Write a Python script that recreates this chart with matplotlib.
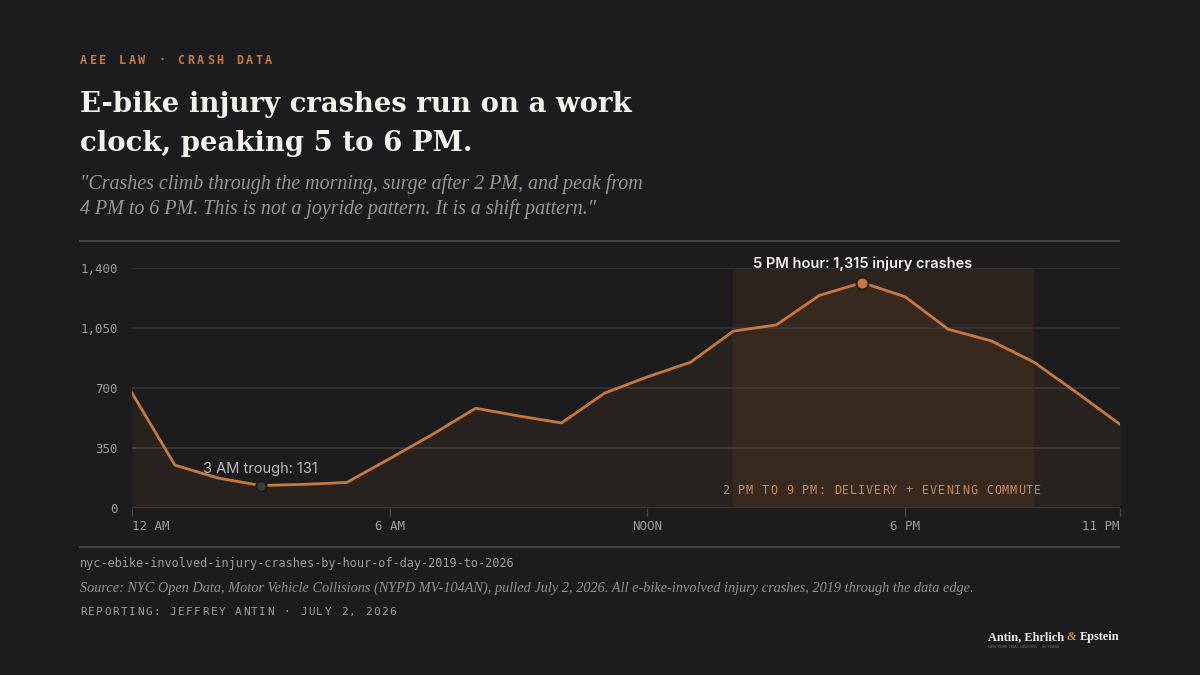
import matplotlib
matplotlib.use("Agg")
import matplotlib.pyplot as plt
import numpy as np

# crashes by hour of day (0 = 12 AM ... 23 = 11 PM)
hours = np.arange(24)
crashes = [671, 250, 175, 131, 138, 149, 288, 430, 582, 537, 496, 670,
           765, 850, 1032, 1068, 1240, 1315, 1232, 1043, 975, 850, 672, 488]

y_ticks = [0, 350, 700, 1050, 1400]
y_labels = ["0", "350", "700", "1,050", "1,400"]
x_ticks = [0, 6, 12, 18, 23]
x_labels = ["12 AM", "6 AM", "NOON", "6 PM", "11 PM"]
band = (14, 21)
trough_hour, peak_hour = 3, 17

BG = "#1c1c1e"
ORANGE = "#c8793a"
GRID = "#333335"
MUTED = "#9b9b9b"
W, H = 1200, 675

MONO = "DejaVu Sans Mono"
SERIF = "Liberation Serif"
TITLE_SERIF = "DejaVu Serif"
SANS = "Inter"

fig = plt.figure(figsize=(12, 6.75), dpi=100, facecolor=BG)


def px(x, y):
    # pixel coords (top-left origin) -> figure fraction
    return x / W, 1 - y / H


def spaced(x, y, s, pitch, **kw):
    # monospace text with letter spacing, one glyph at a time
    for i, ch in enumerate(s):
        fx, fy = px(x + i * pitch, y)
        fig.text(fx, fy, ch, ha="left", va="center", family=MONO, **kw)


# header
spaced(80, 60, "AEE LAW · CRASH DATA", 9.75, size=8.5, color=ORANGE, weight="bold")
fig.text(*px(80, 112), "E-bike injury crashes run on a work", family=TITLE_SERIF,
         weight="bold", size=19.8, color="#f4f1ea", va="baseline")
fig.text(*px(80, 151), "clock, peaking 5 to 6 PM.", family=TITLE_SERIF,
         weight="bold", size=19.8, color="#f4f1ea", va="baseline")
fig.text(*px(80, 189), '"Crashes climb through the morning, surge after 2 PM, and peak from',
         family=SERIF, style="italic", size=14.4, color="#9a9590", va="baseline")
fig.text(*px(80, 214), '4 PM to 6 PM. This is not a joyride pattern. It is a shift pattern."',
         family=SERIF, style="italic", size=14.4, color="#9a9590", va="baseline")

# rules
for yy in (241, 547):
    fig.add_artist(plt.Line2D([80 / W, 1119 / W], [1 - yy / H] * 2, color="#444446", lw=1.5))

# chart
ax = fig.add_axes([132 / W, 1 - 508 / H, (1120 - 132) / W, (508 - 268) / H])
ax.set_facecolor(BG)
ax.set_xlim(0, 23)
ax.set_ylim(0, 1400)
for s in ax.spines.values():
    s.set_visible(False)

ax.axvspan(*band, color="#3a2a1c", alpha=0.55, lw=0, zorder=0)
for t in y_ticks:
    ax.axhline(t, color="#3a3836" if t == 350 else GRID, lw=1.3, zorder=1)
ax.fill_between(hours, crashes, 0, color=ORANGE, alpha=0.07, lw=0, zorder=2)
ax.plot(hours, crashes, color=ORANGE, lw=2, zorder=3, solid_joinstyle="round")

ax.scatter([trough_hour], [crashes[trough_hour]], s=55, color="#3b3b3b",
           edgecolor=BG, linewidth=1.5, zorder=4)
ax.scatter([peak_hour], [crashes[peak_hour]], s=75, color=ORANGE,
           edgecolor="#2a1d12", linewidth=1.5, zorder=4)

ax.annotate("3 AM trough: 131", (trough_hour, crashes[trough_hour]), xytext=(0, 7),
            textcoords="offset points", ha="center", va="bottom", family=SANS,
            size=10.5, color="#b9b9b9", zorder=5)
ax.annotate(f"5 PM hour: {crashes[peak_hour]:,} injury crashes", (peak_hour, crashes[peak_hour]),
            xytext=(0, 8), textcoords="offset points", ha="center", va="bottom",
            family=SANS, weight="semibold", size=10.5, color="#f2f2f2",
            annotation_clip=False, zorder=5)

ax.set_yticks(y_ticks)
ax.set_yticklabels(y_labels, family=MONO, size=9, color=MUTED)
ax.set_xticks(x_ticks)
ax.set_xticklabels(x_labels, family=MONO, size=9, color=MUTED)
ax.tick_params(axis="y", length=0, pad=10)
ax.tick_params(axis="x", length=6, color="#444446", width=1, pad=3)
xt = ax.get_xticklabels()
xt[0].set_ha("left")
xt[-1].set_ha("right")

spaced(722, 490, "2 PM TO 9 PM: DELIVERY + EVENING COMMUTE", 8.0, size=8.5, color="#c58a55")

# footer
fig.text(*px(80, 564), "nyc-ebike-involved-injury-crashes-by-hour-of-day-2019-to-2026",
         family=MONO, size=8.6, color=MUTED, va="center")
fig.text(*px(80, 592), "Source: NYC Open Data, Motor Vehicle Collisions (NYPD MV-104AN), pulled July 2, 2026. "
         "All e-bike-involved injury crashes, 2019 through the data edge.",
         family=SERIF, style="italic", size=10.3, color="#8f8f8f", va="baseline")
spaced(80, 612, "REPORTING: JEFFREY ANTIN · JULY 2, 2026", 8.15, size=8, color=MUTED)

# logo: lay the pieces out right to left using their measured widths
renderer = fig.canvas.get_renderer()
right = 1119
pieces = [("Epstein", "#f0ede6", "normal"), ("&", "#c8954f", "italic"),
          ("Antin, Ehrlich", "#f0ede6", "normal")]
for word, col, sty in pieces:
    t = fig.text(*px(right, 640), word, family=SERIF, weight="bold", style=sty,
                 size=8.8, color=col, ha="right", va="baseline")
    right -= t.get_window_extent(renderer).width + 3
fig.text(*px(right + 3, 647), "NEW YORK TRIAL LAWYERS  ·  50 YEARS", family=SANS, size=2.6,
         color="#777777", va="center")

fig.savefig("out.png", dpi=100, facecolor=BG)
